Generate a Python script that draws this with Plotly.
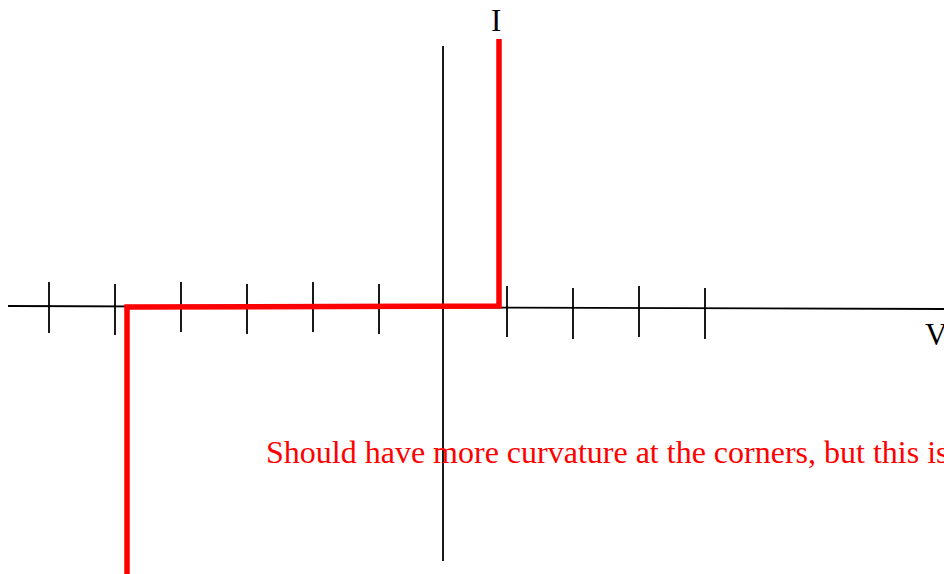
import plotly.graph_objects as go

# Diagram coordinates (page-like units, y grows downward)
axis_h_x = [8, 944]
axis_h_y = [306, 309]
axis_v_x = [443, 443]
axis_v_y = [46, 561]

tick_x = [49, 115, 181, 247, 313, 379, 507, 573, 639, 705]
tick_top = [282, 284, 282, 284, 282, 284, 286, 288, 286, 288]
tick_bot = [333, 335, 332, 334, 332, 334, 337, 339, 337, 339]

curve_x = [127, 127, 499, 499]
curve_y = [574, 307, 306, 39]

label_I = "I"
label_V = "V"
note = "Should have more curvature at the corners, but this is"

fig = go.Figure()

fig.add_trace(go.Scatter(x=axis_h_x, y=axis_h_y, mode="lines",
                         line=dict(color="black", width=1.8), hoverinfo="skip"))
fig.add_trace(go.Scatter(x=axis_v_x, y=axis_v_y, mode="lines",
                         line=dict(color="black", width=1.8), hoverinfo="skip"))

tx, ty = [], []
for x, t, b in zip(tick_x, tick_top, tick_bot):
    tx += [x, x, None]
    ty += [t, b, None]
fig.add_trace(go.Scatter(x=tx, y=ty, mode="lines",
                         line=dict(color="black", width=1.8), hoverinfo="skip"))

fig.add_trace(go.Scatter(x=curve_x, y=curve_y, mode="lines",
                         line=dict(color="#ff0000", width=5.5), hoverinfo="skip"))

serif = "Liberation Serif, Times New Roman, serif"
fig.add_annotation(x=496, y=20, text=label_I, showarrow=False,
                   font=dict(family=serif, size=31, color="black"),
                   xanchor="center", yanchor="middle")
fig.add_annotation(x=923, y=334, text=label_V, showarrow=False,
                   font=dict(family=serif, size=31, color="black"),
                   xanchor="left", yanchor="middle")
fig.add_annotation(x=264, y=452, text=note, showarrow=False,
                   font=dict(family=serif, size=32, color="#ff0000"),
                   xanchor="left", yanchor="middle")

fig.update_layout(
    width=944, height=574, autosize=False,
    margin=dict(l=0, r=0, t=0, b=0),
    paper_bgcolor="white", plot_bgcolor="white",
    showlegend=False,
    xaxis=dict(range=[0, 944], visible=False, fixedrange=True),
    yaxis=dict(range=[574, 0], visible=False, fixedrange=True),
)

fig.write_html("out.html", config={"displayModeBar": False},
               post_script="document.body.style.margin='0';")
